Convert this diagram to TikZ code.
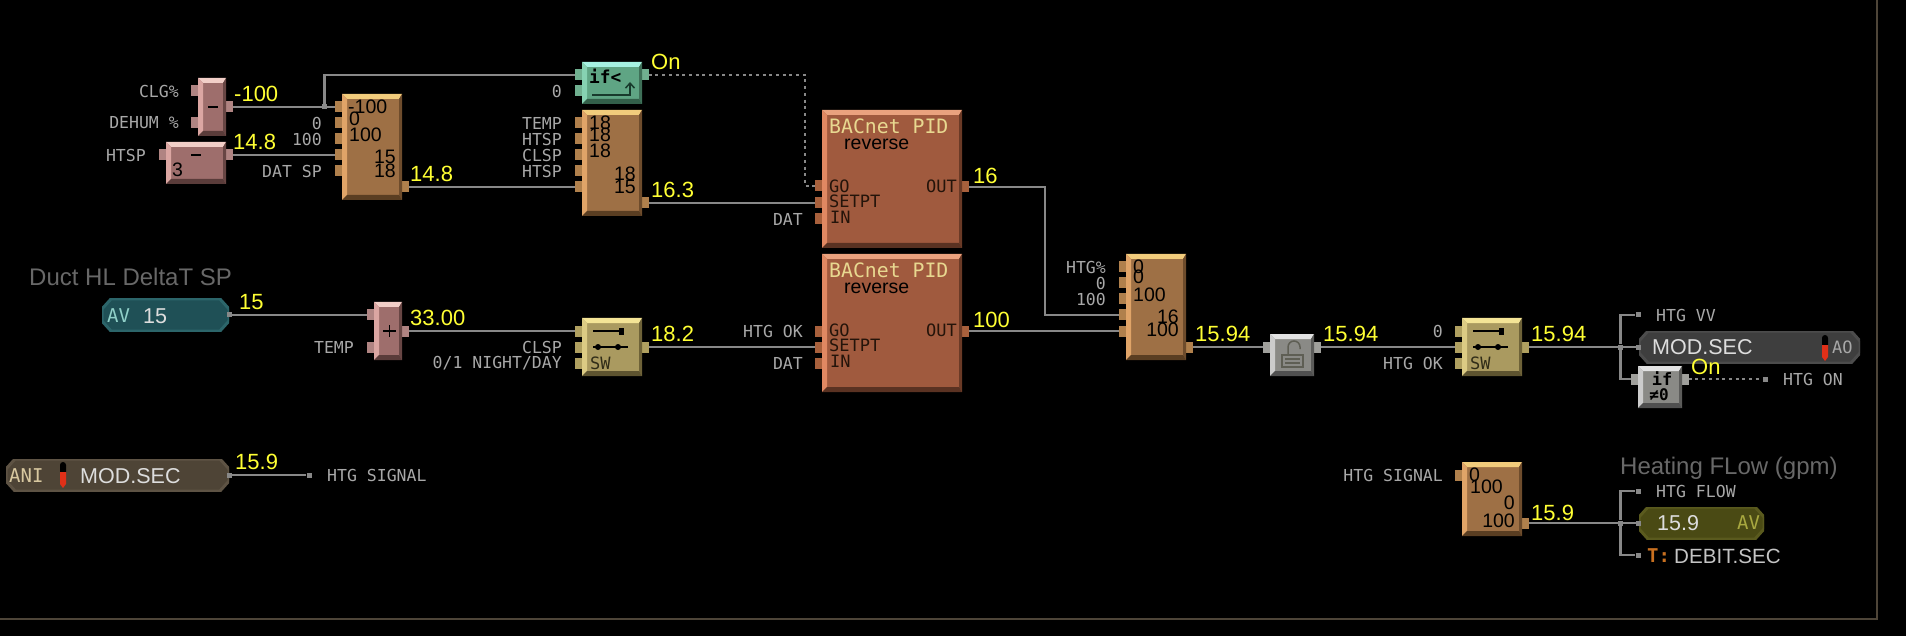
\documentclass[tikz,border=0pt]{standalone}
\usepackage{fontspec}
\setmainfont{Liberation Sans}
\newfontfamily\pixfont{DejaVu Sans Mono}
\usetikzlibrary{arrows.meta}
\newcommand{\hexcol}[1]{\definecolor{#1}{HTML}{#1}}
\hexcol{B08482}\hexcol{B0804C}\hexcol{70B090}\hexcol{A8603C}\hexcol{B0A060}\hexcol{A0A09C}
\hexcol{9E7045}\hexcol{F2CC7C}\hexcol{E0A468}\hexcol{6E4C2C}\hexcol{5A3E22}
\hexcol{9E6E6C}\hexcol{F2CFC8}\hexcol{DBA6A2}\hexcol{684644}\hexcol{5A3C3A}
\hexcol{A05A3E}\hexcol{EAA27E}\hexcol{E08862}\hexcol{6A3A26}\hexcol{5A3222}
\hexcol{AA9A60}\hexcol{F4E496}\hexcol{DCCB84}\hexcol{6E6238}\hexcol{5E5430}
\hexcol{5FA584}\hexcol{A6F2E2}\hexcol{86D2B2}\hexcol{3E7058}\hexcol{33604A}
\hexcol{8A8A86}\hexcol{E2E2E2}\hexcol{CCCCCC}\hexcol{5C5C5A}\hexcol{505050}
\hexcol{1F5056}\hexcol{2C656A}\hexcol{4E4436}\hexcol{5E5344}\hexcol{3E3E3E}\hexcol{4C4C4C}\hexcol{4A4A14}\hexcol{5A5A1E}
\hexcol{E8D890}\hexcol{24140A}\hexcol{183A2C}\hexcol{302C18}\hexcol{5E5E54}
\hexcol{90D0C8}\hexcol{DDDDDD}\hexcol{D8C8A0}\hexcol{A8A8A8}\hexcol{A8A840}\hexcol{E03018}\hexcol{C87020}\hexcol{C4C4C4}
\definecolor{wireCol}{HTML}{888888}
\definecolor{tagCol}{HTML}{A8A8A8}
\definecolor{titleCol}{HTML}{686868}
\definecolor{frameCol}{HTML}{4E4538}
\definecolor{valCol}{HTML}{FFFF33}
\newcommand{\pb}{path picture bounding box}
\tikzset{
  bevel/.style n args={5}{rectangle, inner sep=0pt, fill=#1, path picture={
    \fill [#2] (\pb.north west) -- (\pb.north east) -- ([shift={(-3pt,-5pt)}]\pb.north east) -- ([shift={(5pt,-5pt)}]\pb.north west) -- cycle;
    \fill [#3] (\pb.north west) -- ([shift={(5pt,-5pt)}]\pb.north west) -- ([shift={(5pt,5pt)}]\pb.south west) -- (\pb.south west) -- cycle;
    \fill [#4] (\pb.north east) -- ([shift={(-3pt,-5pt)}]\pb.north east) -- ([shift={(-3pt,5pt)}]\pb.south east) -- (\pb.south east) -- cycle;
    \fill [#5] (\pb.south west) -- ([shift={(5pt,5pt)}]\pb.south west) -- ([shift={(-3pt,5pt)}]\pb.south east) -- (\pb.south east) -- cycle;
  }},
  limBlock/.style={bevel={9E7045}{F2CC7C}{E0A468}{6E4C2C}{5A3E22}},
  diffBlock/.style={bevel={9E6E6C}{F2CFC8}{DBA6A2}{684644}{5A3C3A}},
  pidBlock/.style={bevel={A05A3E}{EAA27E}{E08862}{6A3A26}{5A3222}},
  swBlock/.style={bevel={AA9A60}{F4E496}{DCCB84}{6E6238}{5E5430}},
  ifBlock/.style={bevel={5FA584}{A6F2E2}{86D2B2}{3E7058}{33604A}},
  grayBlock/.style={bevel={8A8A86}{E2E2E2}{CCCCCC}{5C5C5A}{505050}},
  narrow/.style={minimum width=28pt, minimum height=58pt},
  short/.style={minimum width=60pt, minimum height=42pt},
  medium/.style={minimum width=60pt, minimum height=58pt},
  tall/.style={minimum width=60pt, minimum height=106pt},
  small/.style={minimum width=44pt, minimum height=42pt},
  big/.style={minimum width=140pt, minimum height=138pt},
  port/.style={rectangle, inner sep=0pt, minimum width=7pt, minimum height=11pt, fill=#1},
  tip/.style={rectangle, inner sep=0pt, minimum size=5pt, fill=wireCol},
  wire/.style={draw=wireCol, line width=2.2pt},
  dots/.style={draw=wireCol, line width=2pt, dash pattern=on 3pt off 3.7pt},
  tag/.style={anchor=east, inner sep=0pt, text=tagCol, font=\fontsize{16.5}{18}\pixfont},
  tagl/.style={tag, anchor=west},
  val/.style={anchor=west, inner sep=0pt, text=valCol, font=\fontsize{22}{24}\selectfont},
  num/.style={anchor=west, inner sep=0pt, text=black, font=\fontsize{19.5}{20}\selectfont},
  numr/.style={num, anchor=east},
  pintext/.style={inner sep=0pt, text=#1, font=\fontsize{17}{18}\pixfont},
  title/.style={anchor=west, inner sep=0pt, text=titleCol, font=\fontsize{24}{26}\selectfont},
  pill/.style n args={2}{rectangle, inner sep=0pt, minimum height=32pt, path picture={
    \fill [#1, draw=#2, line width=3pt] ([xshift=9pt]\pb.north west) -- ([xshift=-9pt]\pb.north east)
      -- ([yshift=-10pt]\pb.north east) -- ([yshift=10pt]\pb.south east) -- ([xshift=-9pt]\pb.south east)
      -- ([xshift=9pt]\pb.south west) -- ([yshift=10pt]\pb.south west) -- ([yshift=-10pt]\pb.north west) -- cycle;
  }},
  pilltext/.style={anchor=west, inner sep=0pt, text=#1, font=\fontsize{21.5}{24}\selectfont},
  pillcode/.style={anchor=west, inner sep=0pt, text=#1, font=\fontsize{19}{20}\pixfont},
}
\begin{document}
\begin{tikzpicture}[x=1pt, y=-1pt]
\useasboundingbox (0,0) rectangle (1906,636);
\fill [black] (0,0) rectangle (1906,636);
\draw [frameCol, line width=2pt] (0,619) -- (1877,619) -- (1877,0);

% ports
\foreach \m/\y in {1/91, 2/123}
  \node [port=B08482] (diffClg-in\m) at (194.5,\y) {};
\node [port=B08482] (diffClg-out) at (229,107) {};
\node [port=B08482] (diffHtsp-in) at (162.5,155) {};
\node [port=B08482] (diffHtsp-out) at (229,155) {};
\foreach \m/\y in {1/107, 2/123, 3/139, 4/155, 5/171}
  \node [port=B0804C] (limA-in\m) at (338.5,\y) {};
\node [port=B0804C] (limA-out) at (405,187) {};
\foreach \m/\y in {1/123, 2/139, 3/155, 4/171, 5/187}
  \node [port=B0804C] (limB-in\m) at (578.5,\y) {};
\node [port=B0804C] (limB-out) at (645,203) {};
\foreach \m/\y in {1/75, 2/91}
  \node [port=70B090] (ifLess-in\m) at (578.5,\y) {};
\node [port=70B090] (ifLess-out) at (645,75) {};
\foreach \m/\y in {1/186, 2/203, 3/219}
  \node [port=A8603C] (pidA-in\m) at (818.5,\y) {};
\node [port=A8603C] (pidA-out) at (965,187) {};
\foreach \m/\y in {1/331, 2/347, 3/363}
  \node [port=A8603C] (pidB-in\m) at (818.5,\y) {};
\node [port=A8603C] (pidB-out) at (965,331) {};
\foreach \m/\y in {1/331, 2/347, 3/363} {
  \node [port=B0A060] (swA-in\m) at (578.5,\y) {};
  \node [port=B0A060] (swB-in\m) at (1458.5,\y) {};
}
\node [port=B0A060] (swA-out) at (645,347) {};
\node [port=B0A060] (swB-out) at (1525,347) {};
\foreach \m/\y in {1/315, 2/347}
  \node [port=B08482] (addTemp-in\m) at (370.5,\y) {};
\node [port=B08482] (addTemp-out) at (405,331) {};
\foreach \m/\y in {1/267, 2/283, 3/299, 4/315, 5/331}
  \node [port=B0804C] (limC-in\m) at (1122.5,\y) {};
\node [port=B0804C] (limC-out) at (1189,347) {};
\node [port=A0A09C] (lockA-in) at (1266.5,347) {};
\node [port=A0A09C] (lockA-out) at (1317,347) {};
\node [port=A0A09C] (ifZero-in) at (1634.5,379) {};
\node [port=A0A09C] (ifZero-out) at (1685,379) {};
\node [port=B0804C] (limD-in) at (1458.5,475) {};
\node [port=B0804C] (limD-out) at (1525,523) {};

% blocks
\node [diffBlock, narrow] (diffClg) at (212,107) {};
\node [diffBlock, short] (diffHtsp) at (196,163) {};
\node [limBlock, tall] (limA) at (372,147) {};
\node [limBlock, tall] (limB) at (612,163) {};
\node [ifBlock, short] (ifLess) at (612,83) {};
\node [pidBlock, big] (pidA) at (892,179) {};
\node [pidBlock, big] (pidB) at (892,323) {};
\node [swBlock, medium] (swA) at (612,347) {};
\node [swBlock, medium] (swB) at (1492,347) {};
\node [diffBlock, narrow] (addTemp) at (388,331) {};
\node [limBlock, tall] (limC) at (1156,307) {};
\node [grayBlock, small] (lockA) at (1292,355) {};
\node [grayBlock, small] (ifZero) at (1660,387) {};
\node [limBlock, minimum width=60pt, minimum height=74pt] (limD) at (1492,499) {};

% pills
\node [pill={1F5056}{2C656A}, minimum width=127pt] (avDelta) at (165.5,315) {};
\node [pill={4E4436}{5E5344}, minimum width=223pt] (aniMod) at (117.5,475) {};
\node [pill={3E3E3E}{4C4C4C}, minimum width=221pt] (aoMod) at (1749.5,347) {};
\node [pill={4A4A14}{5A5A1E}, minimum width=125pt] (avFlow) at (1701.5,523) {};

% wire ends
\node [tip] (jctA) at (324.5,107) {};
\node [tip] (jctB) at (1620.5,347) {};
\node [tip] (jctC) at (1620.5,523) {};
\node [tip] (endSig) at (309,475) {};
\node [tip] (endVV) at (1638,315) {};
\node [tip] (endOn) at (1765,379) {};
\node [tip] (endFlow) at (1638,491) {};
\node [tip] (endDeb) at (1638,555) {};
\node [tip] (avDelta-pin) at (avDelta.east) {};
\node [tip] (aniMod-pin) at (aniMod.east) {};
\node [tip] (aoMod-pin) at (aoMod.west) {};
\node [tip] (avFlow-pin) at (avFlow.west) {};
\coordinate (bendA) at (805,75);
\coordinate (bendB) at (1045,315);

% wires
\draw [wire] (diffClg-out.east) -- (limA-in1.west);
\draw [wire] (jctA) |- (ifLess-in1.west);
\draw [wire] (diffHtsp-out.east) -- (limA-in4.west);
\draw [wire] (limA-out.east) -- (limB-in5.west);
\draw [wire] (limB-out.east) -- (pidA-in2.west);
\draw [dots] (ifLess-out.east) -- (bendA) |- (pidA-in1.west);
\draw [wire] (pidA-out.east) -| (bendB) -- (limC-in4.west);
\draw [wire] (avDelta-pin) -- (addTemp-in1.west);
\draw [wire] (addTemp-out.east) -- (swA-in1.west);
\draw [wire] (swA-out.east) -- (pidB-in2.west);
\draw [wire] (pidB-out.east) -- (limC-in5.west);
\draw [wire] (limC-out.east) -- (lockA-in.west);
\draw [wire] (lockA-out.east) -- (swB-in2.west);
\draw [wire] (swB-out.east) -- (jctB);
\draw [wire] (jctB) |- (endVV);
\draw [wire] (jctB) -- (aoMod-pin);
\draw [wire] (jctB) |- (ifZero-in.west);
\draw [dots] (ifZero-out.east) -- (endOn);
\draw [wire] (aniMod-pin) -- (endSig);
\draw [wire] (limD-out.east) -- (jctC);
\draw [wire] (jctC) |- (endFlow);
\draw [wire] (jctC) -- (avFlow-pin);
\draw [wire] (jctC) |- (endDeb);

% tags beside the ports
\foreach \t/\x/\y [count=\i] in {CLG\%/179/91, DEHUM \%/179/123, HTSP/146/155, 0/322/123, 100/322/139,
    DAT SP/322/171, TEMP/562/123, HTSP/562/139, CLSP/562/155, HTSP/562/171, 0/562/91, DAT/803/219,
    HTG OK/803/331, DAT/803/363, TEMP/354/347, CLSP/562/347, {0/1 NIGHT/DAY}/562/363}
  \node [tag] (tagL-\i) at (\x,\y) {\t};
\foreach \t/\x/\y [count=\i] in {HTG\%/1106/267, 0/1106/283, 100/1106/299, 0/1443/331, HTG OK/1443/363,
    HTG SIGNAL/1443/475}
  \node [tag] (tagR-\i) at (\x,\y) {\t};
\foreach \t/\x/\y [count=\i] in {HTG SIGNAL/327/475, HTG VV/1656/315, HTG ON/1783/379, HTG FLOW/1656/491}
  \node [tagl] (tagE-\i) at (\x,\y) {\t};

% live values
\foreach \t/\x/\y [count=\i] in {-100/234/94, 14.8/233/142, 14.8/410/174, On/651/62, 16.3/651/190, 18.2/651/334,
    16/973/176, 100/973/320, 15/239/302, 33.00/410/318, 15.9/235/462, 15.94/1195/334, 15.94/1323/334,
    15.94/1531/334, On/1691/367, 15.9/1531/513}
  \node [val] (val-\i) at (\x,\y) {\t};

% numbers inside the blocks
\foreach \t/\x/\y [count=\i] in {3/172/170, -100/348/107, 0/349/119, 100/349/135, 18/589/123, 18/589/135, 18/589/151,
    0/1133/267, 0/1133/277, 100/1133/295, 0/1469/475, 100/1470/487}
  \node [num] (num-\i) at (\x,\y) {\t};
\foreach \t/\x/\y [count=\i] in {15/396/157, 18/396/171, 18/636/174, 15/636/187, 16/1179/317, 100/1179/330,
    0/1515/503, 100/1515/521}
  \node [numr] (numr-\i) at (\x,\y) {\t};

% PID captions
\foreach \n/\y in {pidA/110, pidB/254} {
  \node [pintext=E8D890, anchor=west, font=\fontsize{19.8}{22}\pixfont] (\n-name) at (829,\y+16) {BACnet PID};
  \node [anchor=west, inner sep=0pt, font=\fontsize{19.5}{22}\selectfont] (\n-mode) at (844,\y+34) {reverse};
  \node [pintext=24140A, anchor=west] (\n-go) at (829,\y+76) {GO};
  \node [pintext=24140A, anchor=west] (\n-sp) at (829,\y+91) {SETPT};
  \node [pintext=24140A, anchor=west] (\n-in) at (830,\y+107) {IN};
  \node [pintext=24140A, anchor=east] (\n-out) at (957,\y+76) {OUT};
}

% block symbols
\draw [black, line width=1.5pt] (208,107) -- (218,107);
\draw [black, line width=1.5pt] (191,155) -- (201,155);
\draw [black, line width=1.5pt] (383,331) -- (396,331) (389.5,325) -- (389.5,337);
\node [pintext=black, anchor=west, font=\fontsize{17.8}{20}\bfseries\pixfont] (ifLess-sym) at (589,76) {if<};
\draw [-{Straight Barb[length=5pt, width=9pt]}, 183A2C, line width=1.5pt] (592,95) -- (630,95) -- (630,82);
\node [pintext=black, font=\fontsize{17}{18}\bfseries\pixfont] (ifZero-symA) at (1662,379) {if};
\node [pintext=black, font=\fontsize{16}{18}\bfseries\pixfont] (ifZero-symB) at (1659,395) {≠0};
\foreach \s/\px in {swA/612, swB/1492} {
  \draw [black, line width=1.5pt] (\px-19,331) -- (\px+9,331);
  \draw [black, line width=1.5pt] (\px-19,347) -- (\px+16,347);
  \fill [black] (\px+7,327.5) rectangle (\px+12,334.5);
  \fill [black] (\px-14,347) circle (3pt) (\px+6,347) circle (3pt);
  \node [pintext=302C18, anchor=west] (\s-sym) at (\px-22,363) {SW};
}
\draw [5E5E54, line width=1.5pt] (1282,355) rectangle (1303,367) (1285,359) -- (1300,359) (1285,363) -- (1300,363);
\draw [5E5E54, line width=1.5pt] (1288,355) -- (1288,347) arc [start angle=180, end angle=0, radius=6pt] -- (1300,349);

% pill texts
\node [pillcode=90D0C8] (avDelta-code) at (107,316) {AV};
\node [pilltext=DDDDDD] (avDelta-text) at (143,316) {15};
\node [pillcode=D8C8A0] (aniMod-code) at (9,476) {ANI};
\node [pilltext=DDDDDD] (aniMod-text) at (80,476) {MOD.SEC};
\node [pilltext=DDDDDD] (aoMod-text) at (1652,347) {MOD.SEC};
\node [pillcode=A8A8A8, font=\fontsize{17}{18}\pixfont] (aoMod-code) at (1832,347) {AO};
\node [pilltext=DDDDDD] (avFlow-text) at (1657,523) {15.9};
\node [pillcode=A8A840] (avFlow-code) at (1737,523) {AV};
\foreach \tx/\ty in {63/462, 1825/335} {
  \fill [black] (\tx-3,\ty+3) arc [start angle=180, end angle=0, radius=3pt] -- (\tx+3,\ty+10) -- (\tx-3,\ty+10) -- cycle;
  \fill [E03018] (\tx-3,\ty+10) -- (\tx+3,\ty+10) -- (\tx+3,\ty+22) -- (\tx,\ty+26) -- (\tx-3,\ty+22) -- cycle;
}

% free titles
\node [title] (titleDelta) at (29,277) {Duct HL DeltaT SP};
\node [title] (titleFlow) at (1620,468) {Heating FLow (gpm)};
\node [pillcode=C87020, font=\fontsize{19}{20}\bfseries\pixfont] (debCode) at (1647,556) {T:};
\node [pilltext=C4C4C4, font=\fontsize{20.6}{22}\selectfont] (debText) at (1674,556) {DEBIT.SEC};
\end{tikzpicture}
\end{document}
